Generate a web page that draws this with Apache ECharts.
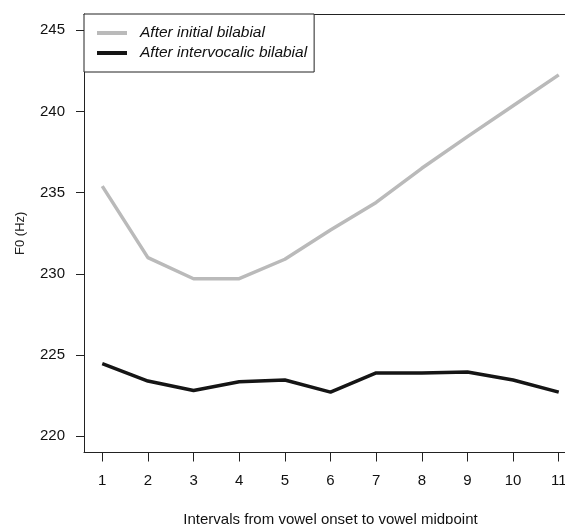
<!DOCTYPE html>
<html>
<head>
<meta charset="utf-8">
<script src="https://cdn.jsdelivr.net/npm/echarts@6/dist/echarts.min.js"></script>
<style>
html,body{margin:0;padding:0;background:#fff;}
#chart{width:565px;height:524px;}
</style>
</head>
<body>
<div id="chart"></div>
<script>
var intervals = [1, 2, 3, 4, 5, 6, 7, 8, 9, 10, 11];
var initialF0 = [235.4, 231.0, 229.7, 229.7, 230.9, 232.7, 234.4, 236.5, 238.45, 240.35, 242.25];
var intervocalicF0 = [224.47, 223.4, 222.82, 223.36, 223.46, 222.72, 223.9, 223.9, 223.96, 223.46, 222.72];
var yTicks = [220, 225, 230, 235, 240, 245];
var seriesNames = ['After initial bilabial', 'After intervocalic bilabial'];

var font = '"Liberation Sans", Arial, sans-serif';
function pairs(xs, ys) { return xs.map(function (x, i) { return [x, ys[i]]; }); }

var boxLine = { show: true, lineStyle: { color: '#222', width: 1 } };

var chart = echarts.init(document.getElementById('chart'), null, { renderer: 'canvas' });
chart.setOption({
  animation: false,
  backgroundColor: '#fff',
  grid: {
    left: 84, top: 14, right: -12, bottom: 71.5,
    outerBoundsMode: 'none',
    containLabel: false,
    show: false
  },
  legend: {
    left: 84, top: 14,
    orient: 'vertical',
    data: seriesNames,
    backgroundColor: '#fff',
    borderColor: '#222', borderWidth: 1,
    padding: [11, 7, 11, 13],
    itemGap: 4,
    itemWidth: 30, itemHeight: 4,
    icon: 'rect',
    textStyle: { fontFamily: font, fontSize: 15.5, fontStyle: 'italic', color: '#111', lineHeight: 15, padding: [0, 0, 0, 8] }
  },
  xAxis: [{
    type: 'value', min: 0.6, max: 11.4, position: 'bottom',
    axisLine: boxLine,
    splitLine: { show: false },
    axisTick: { show: true, inside: false, length: 9, customValues: intervals, lineStyle: { color: '#222' } },
    axisLabel: { customValues: intervals, margin: 21, fontFamily: font, fontSize: 15, color: '#111' },
    name: 'Intervals from vowel onset to vowel midpoint',
    nameLocation: 'middle', nameGap: 60,
    nameTextStyle: { fontFamily: font, fontSize: 15, color: '#111' }
  }, {
    type: 'value', min: 0.6, max: 11.4, position: 'top',
    axisLine: boxLine,
    splitLine: { show: false },
    axisTick: { show: false },
    axisLabel: { show: false }
  }],
  yAxis: {
    type: 'value', min: 219, max: 246,
    axisLine: boxLine,
    splitLine: { show: false },
    axisTick: { show: true, inside: false, length: 8, customValues: yTicks, lineStyle: { color: '#222' } },
    axisLabel: { customValues: yTicks, margin: 19, fontFamily: font, fontSize: 15, color: '#111' },
    name: 'F0 (Hz)',
    nameLocation: 'middle', nameGap: 57, nameRotate: 90,
    nameTextStyle: { fontFamily: font, fontSize: 13, color: '#222' }
  },
  series: [
    {
      name: seriesNames[0], type: 'line', symbol: 'none', xAxisIndex: 0,
      data: pairs(intervals, initialF0),
      itemStyle: { color: '#bababa' },
      lineStyle: { color: '#bababa', width: 3.5 }
    },
    {
      name: seriesNames[1], type: 'line', symbol: 'none', xAxisIndex: 0,
      data: pairs(intervals, intervocalicF0),
      itemStyle: { color: '#151515' },
      lineStyle: { color: '#151515', width: 3.5 }
    }
  ]
});
</script>
</body>
</html>
